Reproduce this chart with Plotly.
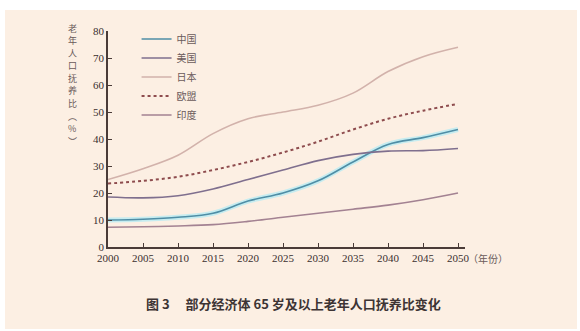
import plotly.graph_objects as go

years = [2000, 2005, 2010, 2015, 2020, 2025, 2030, 2035, 2040, 2045, 2050]
china = [10.0, 10.3, 11.0, 12.5, 17.0, 20.0, 24.5, 31.5, 38.0, 40.5, 43.5]
usa = [18.5, 18.2, 19.0, 21.5, 25.0, 28.5, 32.0, 34.3, 35.5, 35.7, 36.5]
japan = [25.0, 29.0, 34.0, 42.0, 47.5, 50.0, 52.5, 57.0, 65.0, 70.5, 74.0]
eu = [23.5, 24.5, 26.0, 28.5, 31.5, 35.0, 39.0, 43.5, 47.5, 50.5, 53.0]
india = [7.3, 7.5, 7.8, 8.3, 9.5, 11.0, 12.5, 14.0, 15.5, 17.5, 20.0]

names = ["中国", "美国", "日本", "欧盟", "印度"]
y_ticks = [0, 10, 20, 30, 40, 50, 60, 70, 80]
x_ticks = years
y_title_chars = ["老", "年", "人", "口", "抚", "养", "比", "︵", "%", "︶"]
x_unit = "（年份）"
caption = "图 3　 部分经济体 65 岁及以上老年人口抚养比变化"

bg = "#fcefe3"
fig = go.Figure()

fig.add_trace(go.Scatter(x=years, y=china, mode="lines", line=dict(color="#c6ecf0", width=5, shape="spline"),
                         showlegend=False, hoverinfo="skip"))
fig.add_trace(go.Scatter(x=years, y=china, mode="lines", name=names[0],
                         line=dict(color="#4f8ea6", width=1.6, shape="spline")))
fig.add_trace(go.Scatter(x=years, y=usa, mode="lines", name=names[1],
                         line=dict(color="#7f6f8e", width=1.6, shape="spline")))
fig.add_trace(go.Scatter(x=years, y=japan, mode="lines", name=names[2],
                         line=dict(color="#d2b2ab", width=1.6, shape="spline")))
fig.add_trace(go.Scatter(x=years, y=eu, mode="lines", name=names[3],
                         line=dict(color="#8e4c4e", width=2, dash="dot", shape="spline")))
fig.add_trace(go.Scatter(x=years, y=india, mode="lines", name=names[4],
                         line=dict(color="#a38292", width=1.6, shape="spline")))

axis_col = "#4a3b38"
serif = "Times New Roman"
tickfont = dict(family=serif, size=11, color="#3a3030")

annotations = []
ypix = [28, 40.5, 53, 65.5, 78, 90.5, 103, 116, 128.5, 141]
for ch, yp in zip(y_title_chars, ypix):
    annotations.append(dict(text=ch, xref="paper", yref="paper",
                            x=(72 - 108) / 357.0, y=(247 - yp) / 216.0,
                            xanchor="center", yanchor="middle", showarrow=False,
                            font=dict(family="Noto Sans CJK SC", size=9, color="#6a5a5a")))
annotations.append(dict(text=x_unit, xref="paper", yref="paper", x=(466 - 108) / 357.0,
                        y=-(258 - 247) / 216.0, xanchor="left", yanchor="middle",
                        showarrow=False,
                        font=dict(family="Noto Sans CJK SC", size=10, color="#6a5a5a")))
annotations.append(dict(text="<b>" + caption + "</b>", xref="paper", yref="paper",
                        x=(293 - 108) / 357.0, y=-(303 - 247) / 216.0,
                        xanchor="center", yanchor="middle", showarrow=False,
                        font=dict(family="Noto Sans CJK SC", size=13, color="#3d3434")))

fig.update_layout(
    width=580, height=331,
    margin=dict(l=108, r=115, t=31, b=84),
    paper_bgcolor="white",
    plot_bgcolor=bg,
    font=dict(family=serif),
    showlegend=True,
    legend=dict(x=0.08, y=1.03, xanchor="left", yanchor="top", bgcolor="rgba(0,0,0,0)",
                font=dict(family="Noto Sans CJK SC", size=10, color="#6a5a5a"),
                tracegroupgap=0, itemwidth=30),
    xaxis=dict(range=[2000, 2051], tickvals=x_ticks, showgrid=False, zeroline=False,
               showline=True, linecolor=axis_col, linewidth=1.5, ticks="inside",
               ticklen=4, tickcolor=axis_col, tickfont=tickfont),
    yaxis=dict(range=[0, 80], tickvals=y_ticks, showgrid=False, zeroline=False,
               showline=True, linecolor=axis_col, linewidth=1.5, ticks="inside",
               ticklen=4, tickcolor=axis_col, tickfont=tickfont),
    annotations=annotations,
    shapes=[dict(type="rect", xref="paper", yref="paper", layer="below",
                 x0=(5 - 108) / 357.0, x1=(577 - 108) / 357.0,
                 y0=(247 - 329) / 216.0, y1=(247 - 10) / 216.0,
                 fillcolor=bg, line=dict(width=0))],
)

fig.write_html("out.html")
